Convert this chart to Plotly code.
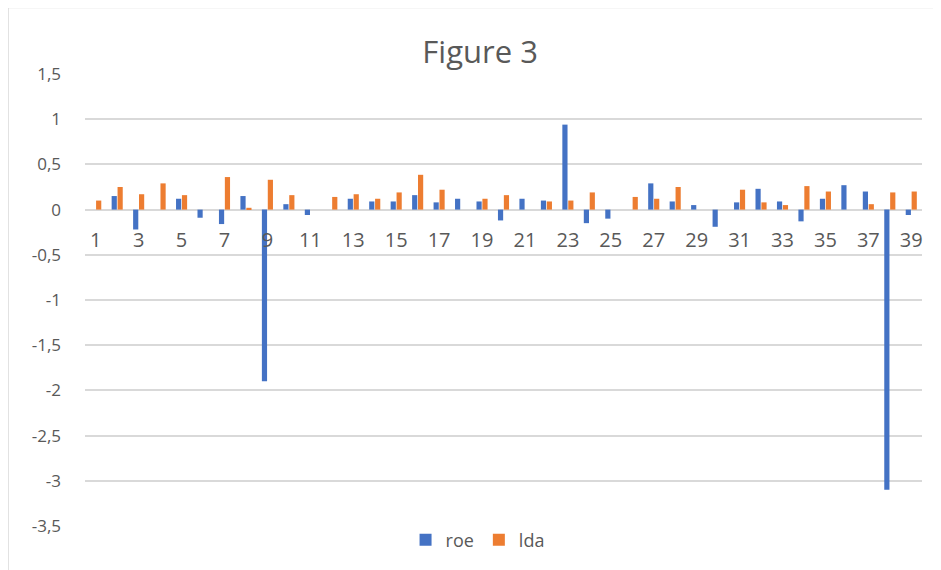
import plotly.graph_objects as go

categories = list(range(1, 40))
roe = [0, 0.15, -0.22, 0, 0.12, -0.09, -0.16, 0.15, -1.90, 0.06,
       -0.06, 0, 0.12, 0.09, 0.09, 0.16, 0.08, 0.12, 0.09, -0.12,
       0.12, 0.10, 0.94, -0.15, -0.10, 0, 0.29, 0.09, 0.05, -0.19,
       0.08, 0.23, 0.09, -0.13, 0.12, 0.27, 0.20, -3.10, -0.06]
lda = [0.10, 0.25, 0.17, 0.29, 0.16, 0, 0.36, 0.02, 0.33, 0.16,
       0, 0.14, 0.17, 0.12, 0.19, 0.385, 0.22, 0, 0.12, 0.16,
       0, 0.09, 0.10, 0.19, 0, 0.14, 0.12, 0.25, 0, 0,
       0.22, 0.08, 0.05, 0.26, 0.20, 0, 0.06, 0.19, 0.20]
x_tickvals = list(range(1, 40, 2))
x_ticktext = [str(v) for v in x_tickvals]
y_tickvals = [1.5, 1, 0.5, 0, -0.5, -1, -1.5, -2, -2.5, -3, -3.5]
y_ticktext = ["1,5", "1", "0,5", "0", "-0,5", "-1", "-1,5", "-2", "-2,5", "-3", "-3,5"]

BLUE = "#4472C4"
ORANGE = "#ED7D31"
GRID = "#D9D9D9"
TEXT = "#595959"
FONT = "Open Sans"

fig = go.Figure()
fig.add_trace(go.Bar(x=categories, y=roe, name="roe", marker=dict(color=BLUE, line=dict(width=0))))
fig.add_trace(go.Bar(x=categories, y=lda, name="lda", marker=dict(color=ORANGE, line=dict(width=0))))

ymin, ymax = -3.5, 1.5
fig.update_layout(
    width=933, height=562,
    margin=dict(l=77, r=19, t=66, b=39),
    paper_bgcolor="white", plot_bgcolor="white",
    barmode="group", bargap=0.45, bargroupgap=0.12,
    font=dict(family=FONT, color=TEXT),
    title=dict(text="Figure 3", x=0.506, xanchor="center", y=0.922, yanchor="middle",
               font=dict(family=FONT, size=31, color=TEXT)),
    showlegend=True,
    legend=dict(orientation="h", x=0.469, xanchor="center", y=-0.031, yanchor="middle",
                font=dict(size=18, color=TEXT), itemwidth=30, traceorder="normal"),
    xaxis=dict(range=[0.5, 39.5], tickmode="array", tickvals=x_tickvals, ticktext=x_ticktext,
               showgrid=False, zeroline=False, showline=False, ticks="",
               anchor="free", position=(0 - ymin) / (ymax - ymin),
               tickfont=dict(size=20, color=TEXT), ticklabelstandoff=16),
    yaxis=dict(range=[ymin, ymax], tickmode="array", tickvals=y_tickvals, ticktext=y_ticktext,
               showgrid=True, gridcolor=GRID, gridwidth=1.5,
               zeroline=True, zerolinecolor=GRID, zerolinewidth=1.5,
               showline=False, ticks="", tickfont=dict(size=17, color=TEXT),
               ticklabelstandoff=23),
    shapes=[
        dict(type="line", xref="paper", yref="paper", x0=(8 - 85) / 837, x1=(8 - 85) / 837,
             y0=(523 - 8) / 449, y1=(523 - 575) / 449, line=dict(color=GRID, width=1.5)),
        dict(type="line", xref="paper", yref="paper", x0=(8 - 85) / 837, x1=(945 - 85) / 837,
             y0=(523 - 8) / 449, y1=(523 - 8) / 449, line=dict(color=GRID, width=1.5)),
    ],
)

fig.write_html("out.html")
